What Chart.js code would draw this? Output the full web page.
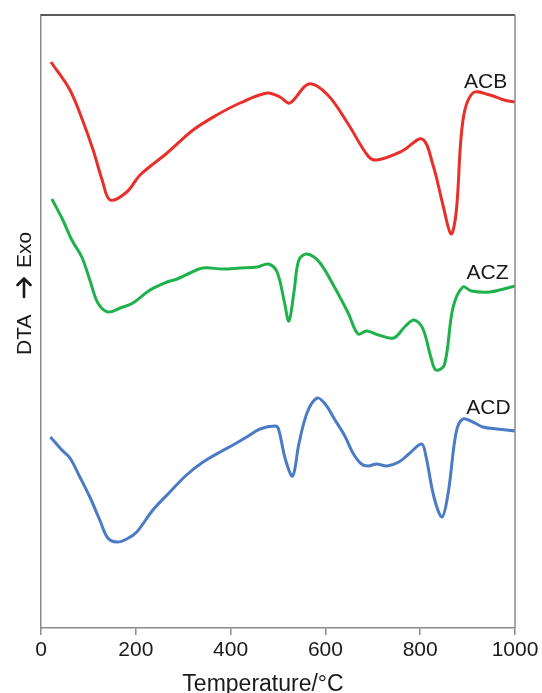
<!DOCTYPE html>
<html>
<head>
<meta charset="utf-8">
<script src="https://cdn.jsdelivr.net/npm/chart.js@4/dist/chart.umd.min.js"></script>
<style>
  html, body { margin: 0; padding: 0; background: #fff; }
  #wrap { width: 542px; height: 693px; position: relative; }
</style>
</head>
<body>
<div id="wrap"><canvas id="dta"></canvas></div>
<script>
// DTA curves of three samples, temperature in °C against signal (arbitrary units, exo up)
const tempTicks = [0, 200, 400, 600, 800, 1000];

const acbTemp = [21, 61, 89, 110, 129, 146, 181, 209, 266, 321, 371, 420, 477, 504, 525, 565, 605, 648, 690, 709, 762, 804, 827, 848, 865, 876, 890, 911, 947, 977, 1000];
const acbSignal = [566, 538, 506, 478, 448, 428, 436, 453, 475, 498, 513, 525, 535, 531, 525, 544, 533, 504, 472, 468, 477, 489, 463, 423, 394, 416, 507, 535, 533, 528, 526];

const aczTemp = [23, 46, 65, 86, 103, 120, 141, 167, 194, 230, 266, 287, 314, 342, 384, 420, 456, 480, 498, 513, 523, 534, 544, 561, 587, 619, 648, 669, 687, 712, 744, 769, 787, 805, 823, 833, 851, 869, 890, 908, 947, 976, 1000];
const aczSignal = [429, 408, 388, 371, 348, 325, 316, 320, 325, 338, 346, 349, 355, 360, 359, 360, 361, 364, 356, 327, 307, 337, 368, 374, 366, 341, 315, 294, 297, 293, 290, 302, 308, 300, 270, 258, 263, 320, 341, 337, 336, 339, 342];

const acdTemp = [20, 44, 61, 82, 103, 124, 141, 160, 181, 202, 236, 272, 307, 342, 378, 405, 434, 462, 494, 501, 516, 531, 544, 562, 583, 601, 619, 641, 658, 676, 690, 708, 730, 755, 776, 803, 812, 829, 846, 859, 876, 890, 911, 932, 962, 1000];
const acdSignal = [191, 178, 170, 151, 131, 108, 90, 86, 89, 96, 118, 136, 153, 166, 176, 183, 191, 199, 202, 199, 168, 152, 184, 216, 230, 223, 209, 192, 175, 164, 162, 164, 162, 166, 174, 184, 172, 131, 111, 135, 196, 209, 206, 201, 199, 197];

const seriesNames = ['ACB', 'ACZ', 'ACD'];
const seriesColors = ['#e8302a', '#1fb24c', '#4a7bc4'];
// where each curve name sits, in data units
const nameAnchors = [[938, 546], [942, 355], [944, 220]];

function pairs(xs, ys) { return xs.map((x, i) => ({ x: x, y: ys[i] })); }

const curves = [pairs(acbTemp, acbSignal), pairs(aczTemp, aczSignal), pairs(acdTemp, acdSignal)];

const FONT = "'Liberation Sans', Arial, Helvetica, sans-serif";
const INK = '#1a1a1a';

const framePlugin = {
  id: 'frame',
  afterDraw(chart) {
    const { ctx, chartArea: a } = chart;
    ctx.save();
    // top edge dark, right edge grey
    ctx.strokeStyle = '#222';
    ctx.lineWidth = 1.5;
    ctx.beginPath();
    ctx.moveTo(a.left, a.top);
    ctx.lineTo(a.right, a.top);
    ctx.stroke();
    ctx.strokeStyle = '#8a8a8a';
    ctx.beginPath();
    ctx.moveTo(a.right, a.top);
    ctx.lineTo(a.right, a.bottom);
    ctx.stroke();

    // curve names
    ctx.fillStyle = INK;
    ctx.font = '21px ' + FONT;
    ctx.textAlign = 'center';
    ctx.textBaseline = 'middle';
    const xs = chart.scales.x, ys = chart.scales.y;
    seriesNames.forEach((n, i) => {
      ctx.fillText(n, xs.getPixelForValue(nameAnchors[i][0]), ys.getPixelForValue(nameAnchors[i][1]));
    });

    // horizontal axis caption
    ctx.font = '23px ' + FONT;
    ctx.textBaseline = 'alphabetic';
    ctx.fillText('Temperature/°C', 263, 691);

    // vertical axis caption: "DTA", a bold arrow, "Exo"
    ctx.translate(24, 0);
    ctx.rotate(-Math.PI / 2);
    ctx.font = '21px ' + FONT;
    ctx.textAlign = 'left';
    ctx.textBaseline = 'middle';
    ctx.fillText('DTA', -355, 1);
    ctx.fillText('Exo', -268, 1);
    ctx.strokeStyle = INK;
    ctx.lineWidth = 2.6;
    ctx.lineCap = 'round';
    ctx.lineJoin = 'round';
    ctx.beginPath();
    ctx.moveTo(-297, 0);
    ctx.lineTo(-279, 0);
    ctx.moveTo(-285, -6.5);
    ctx.lineTo(-278.5, 0);
    ctx.lineTo(-285, 6.5);
    ctx.stroke();
    ctx.restore();
  }
};

new Chart(document.getElementById('dta'), {
  type: 'line',
  data: {
    datasets: curves.map((pts, i) => ({
      label: seriesNames[i],
      data: pts,
      borderColor: seriesColors[i],
      borderWidth: 3,
      pointRadius: 0,
      tension: 0.35,
      fill: false
    }))
  },
  options: {
    responsive: true,
    maintainAspectRatio: false,
    animation: false,
    layout: { padding: { top: 15, right: 27, left: 0, bottom: 0 } },
    plugins: { legend: { display: false }, tooltip: { enabled: false } },
    scales: {
      x: {
        type: 'linear',
        min: 0,
        max: 1000,
        afterBuildTicks(scale) { scale.ticks = tempTicks.map(v => ({ value: v })); },
        afterFit(scale) { scale.height = 65; },
        border: { display: true, color: '#8a8a8a', width: 1.5 },
        grid: { display: true, drawOnChartArea: false, drawTicks: true, tickLength: 7, color: '#8a8a8a', lineWidth: 1.5 },
        ticks: { color: INK, font: { family: FONT, size: 21 }, padding: 3, maxRotation: 0, callback: v => String(v) },
        title: { display: false }
      },
      y: {
        min: 0,
        max: 613,
        afterFit(scale) { scale.width = 41; },
        border: { display: true, color: '#8a8a8a', width: 1.5 },
        grid: { display: false },
        ticks: { display: false }
      }
    }
  },
  plugins: [framePlugin]
});
</script>
</body>
</html>
